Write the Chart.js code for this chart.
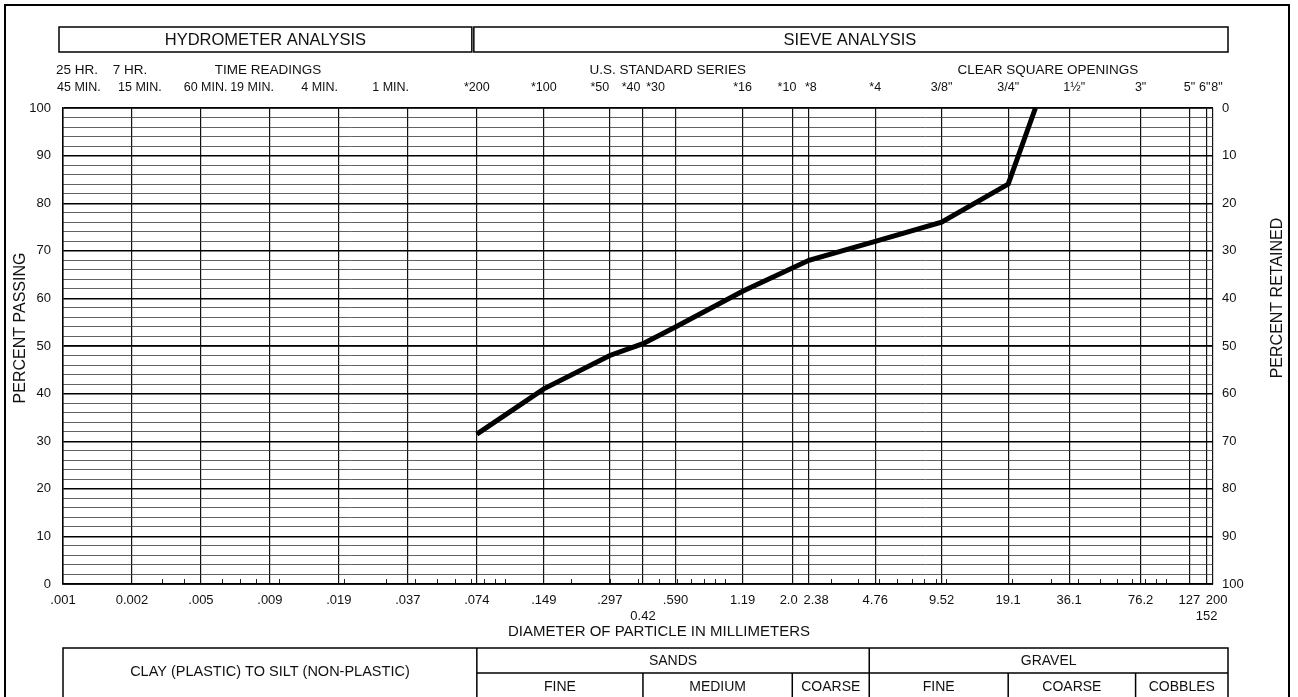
<!DOCTYPE html>
<html>
<head>
<meta charset="utf-8">
<script src="https://cdn.jsdelivr.net/npm/chart.js@4"></script>
<style>
  html, body { margin: 0; padding: 0; background: #fff; }
  #wrap { width: 1298px; height: 697px; position: relative; }
</style>
</head>
<body>
<div id="wrap"><canvas id="gradation"></canvas></div>
<script>
// sieve results
const sieveSizes = [0.074, 0.149, 0.297, 0.42, 0.59, 1.19, 2.38, 4.76, 9.52, 19.1, 25.4];
const percentPassing = [31.5, 41, 48, 50.5, 54, 61.5, 68, 72, 76, 84, 100];

// bottom axis (mm)
const bottomTickSizes = [0.001, 0.002, 0.005, 0.009, 0.019, 0.037, 0.074, 0.149, 0.297, 0.42, 0.59,
    1.19, 2.0, 2.38, 4.76, 9.52, 19.1, 36.1, 76.2, 127, 152, 200];
const bottomTickLabels = [".001", "0.002", ".005", ".009", ".019", ".037", ".074", ".149", ".297", "0.42", ".590",
    "1.19", "2.0", "2.38", "4.76", "9.52", "19.1", "36.1", "76.2", "127", "152", "200"];
const loweredLabels = ["0.42", "152"];
// little log ticks along the bottom edge
const minorTickSizes = [0.003, 0.004, 0.006, 0.007, 0.008, 0.01, 0.02, 0.03, 0.04, 0.05, 0.06, 0.07,
    0.08, 0.09, 0.1, 0.2, 0.3, 0.4, 0.5, 0.6, 0.7, 0.8, 0.9, 1, 3, 4, 5, 6, 7, 8, 9, 10,
    20, 30, 40, 50, 60, 70, 80, 90, 100];

const percentLabels = [0, 10, 20, 30, 40, 50, 60, 70, 80, 90, 100];

// hydrometer columns are drawn evenly, the sieve side is log2
const hydroSizes = [0.001, 0.002, 0.005, 0.009, 0.019, 0.037, 0.074];
const HYDRO_STEP = 1.04;
const X_MAX = 11.1;

function u(d) {
    if (d >= 0.074) return Math.log2(d / 0.074);
    for (let i = 0; i < hydroSizes.length - 1; i++) {
        const a = hydroSizes[i], b = hydroSizes[i + 1];
        if (d <= b) {
            const f = Math.log(d / a) / Math.log(b / a);
            return (i + f - 6) * HYDRO_STEP;
        }
    }
    return 0;
}
const X_MIN = u(0.001);

// labels above the grid: [text, axis value]
const topRow1 = [["25 HR.", -6.03], ["7 HR.", -5.23], ["TIME READINGS", -3.15],
    ["U.S. STANDARD SERIES", 2.88], ["CLEAR SQUARE OPENINGS", 8.61]];
const topRow2 = [["45 MIN.", -6.0], ["15 MIN.", -5.08], ["60 MIN.", -4.09], ["19 MIN.", -3.39],
    ["4 MIN.", -2.37], ["1 MIN.", -1.30],
    ["*200", u(0.074)], ["*100", u(0.149)], ["*50", u(0.297) - 0.15], ["*40", u(0.42) - 0.18],
    ["*30", u(0.59) - 0.3], ["*16", u(1.19)], ["*10", u(2.0) - 0.08], ["*8", u(2.38) + 0.03],
    ["*4", u(4.76)], ["3/8\"", u(9.52)], ["3/4\"", u(19.1)], ["1\u00bd\"", u(38.1)], ["3\"", u(76.2)],
    ["5\"", u(127)], ["6\"", u(152) - 0.03], ["8\"", X_MAX + 0.06]];

const FONT = '"Liberation Sans", Arial, sans-serif';

const sheetPlugin = {
    id: "sheet",
    beforeDraw(chart) {
        const ctx = chart.ctx;
        ctx.save();
        ctx.fillStyle = "#fff";
        ctx.fillRect(0, 0, chart.width, chart.height);
        ctx.restore();
    },
    afterDraw(chart) {
        const ctx = chart.ctx;
        const xs = chart.scales.x;
        const a = chart.chartArea;
        const px = (d) => xs.getPixelForValue(u(d));
        ctx.save();
        ctx.strokeStyle = "#000";
        ctx.fillStyle = "#111";

        // outer frame
        ctx.lineWidth = 2;
        ctx.strokeRect(5, 5, 1284, 720);

        // header boxes
        ctx.lineWidth = 1.5;
        const split = px(0.074) - 5;
        const boxR = a.right + 15;
        ctx.strokeRect(a.left - 4, 27, split - (a.left - 4), 25);
        ctx.strokeRect(split + 2, 27, boxR - split - 2, 25);
        ctx.font = "16.5px " + FONT;
        ctx.textAlign = "center";
        ctx.textBaseline = "middle";
        ctx.fillText("HYDROMETER ANALYSIS", (a.left - 4 + split) / 2, 40);
        ctx.fillText("SIEVE ANALYSIS", (split + boxR) / 2, 40);

        // top label rows
        ctx.font = "13.5px " + FONT;
        topRow1.forEach(([t, v]) => ctx.fillText(t, xs.getPixelForValue(v), 70));
        ctx.font = "12.5px " + FONT;
        topRow2.forEach(([t, v]) => ctx.fillText(t, xs.getPixelForValue(v), 88));

        // axis titles
        ctx.font = "15px " + FONT;
        ctx.fillText("DIAMETER OF PARTICLE IN MILLIMETERS", 659, 632);
        ctx.font = "16px " + FONT;
        ctx.save();
        ctx.translate(21, 328);
        ctx.rotate(-Math.PI / 2);
        ctx.fillText("PERCENT PASSING", 0, 0);
        ctx.restore();
        ctx.save();
        ctx.translate(1278, 298);
        ctx.rotate(-Math.PI / 2);
        ctx.fillText("PERCENT RETAINED", 0, 0);
        ctx.restore();

        // soil classification table
        const top = 648, mid = 673, bot = 730;
        const xL = a.left, xF = px(0.074), xS = px(4.76) - 6, xR = boxR;
        ctx.lineWidth = 1.5;
        ctx.strokeRect(xL, top, xR - xL, bot - top);
        ctx.beginPath();
        ctx.moveTo(xF, top); ctx.lineTo(xF, bot);
        ctx.moveTo(xS, top); ctx.lineTo(xS, bot);
        ctx.moveTo(xF, mid); ctx.lineTo(xR, mid);
        const subs = [px(0.42), px(2.0), px(19.1), px(76.2) - 5];
        subs.forEach((x) => { ctx.moveTo(x, mid); ctx.lineTo(x, bot); });
        ctx.stroke();
        ctx.font = "14.5px " + FONT;
        ctx.fillText("CLAY (PLASTIC) TO SILT (NON-PLASTIC)", (xL + xF) / 2, 672);
        ctx.font = "14px " + FONT;
        ctx.fillText("SANDS", (xF + xS) / 2, 661);
        ctx.fillText("GRAVEL", (xS + xR) / 2, 661);
        const cells = [xF, subs[0], subs[1], xS, subs[2], subs[3], xR];
        const names = ["FINE", "MEDIUM", "COARSE", "FINE", "COARSE", "COBBLES"];
        names.forEach((n, i) => ctx.fillText(n, (cells[i] + cells[i + 1]) / 2, 687));
        ctx.restore();
    }
};

const tickFont = { size: 13, family: FONT };

new Chart(document.getElementById("gradation"), {
    type: "line",
    data: {
        datasets: [{
            data: sieveSizes.map((d, i) => ({ x: u(d), y: percentPassing[i] })),
            borderColor: "#000",
            borderWidth: 5,
            pointRadius: 0,
            tension: 0,
            fill: false,
        }],
    },
    options: {
        responsive: true,
        maintainAspectRatio: false,
        animation: false,
        layout: { padding: { top: 108, left: 0, right: 0, bottom: 0 } },
        plugins: { legend: { display: false }, tooltip: { enabled: false } },
        scales: {
            // short log ticks pointing up from the bottom edge
            xMinor: {
                type: "linear",
                position: "bottom",
                weight: -1,
                min: X_MIN,
                max: X_MAX,
                afterBuildTicks: (s) => {
                    s.ticks = minorTickSizes.map((d) => ({ value: u(d) }));
                },
                afterFit: (s) => { s.height = 0; },
                grid: { drawOnChartArea: false, drawTicks: true, tickLength: -5, color: "#222", lineWidth: 1 },
                border: { display: false },
                ticks: { display: false },
            },
            x: {
                type: "linear",
                position: "bottom",
                weight: 1,
                min: X_MIN,
                max: X_MAX,
                afterBuildTicks: (s) => {
                    s.ticks = bottomTickSizes.map((d) => ({ value: Math.min(u(d), X_MAX) }));
                },
                afterFit: (s) => { s.height = 113; },
                grid: { color: "#111", lineWidth: 1.2, drawTicks: false },
                border: { color: "#000", width: 1.5 },
                ticks: {
                    autoSkip: false,
                    maxRotation: 0,
                    padding: 9,
                    color: "#111",
                    font: tickFont,
                    callback: (v, i) => {
                        const t = bottomTickLabels[i];
                        if (loweredLabels.includes(t)) return ["", t];
                        if (t === "2.0") return "2.0  ";
                        if (t === "2.38") return "    2.38";
                        if (t === "200") return "  200";
                        return t;
                    },
                },
            },
            // fine 2% rulings, no labels
            yMinor: {
                position: "left",
                min: 0,
                max: 100,
                afterBuildTicks: (s) => {
                    const t = [];
                    for (let v = 0; v <= 100; v += 2) t.push({ value: v });
                    s.ticks = t;
                },
                afterFit: (s) => { s.width = 0; },
                grid: { drawTicks: false, color: "#3a3a3a", lineWidth: 0.8 },
                border: { display: false },
                ticks: { display: false },
            },
            y: {
                position: "left",
                min: 0,
                max: 100,
                afterBuildTicks: (s) => {
                    s.ticks = percentLabels.map((v) => ({ value: v }));
                },
                afterFit: (s) => { s.width = 63; },
                grid: { drawTicks: false, color: "#000", lineWidth: 1.4 },
                border: { color: "#000", width: 1.5 },
                ticks: {
                    autoSkip: false,
                    padding: 12,
                    color: "#111",
                    font: tickFont,
                },
            },
            y2: {
                position: "right",
                min: 0,
                max: 100,
                reverse: true,
                afterBuildTicks: (s) => {
                    s.ticks = percentLabels.map((v) => ({ value: v }));
                },
                afterFit: (s) => { s.width = 85; },
                grid: { drawOnChartArea: false, drawTicks: false },
                border: { display: false },
                ticks: {
                    autoSkip: false,
                    padding: 9,
                    color: "#111",
                    font: tickFont,
                },
            },
        },
    },
    plugins: [sheetPlugin],
});
</script>
</body>
</html>
